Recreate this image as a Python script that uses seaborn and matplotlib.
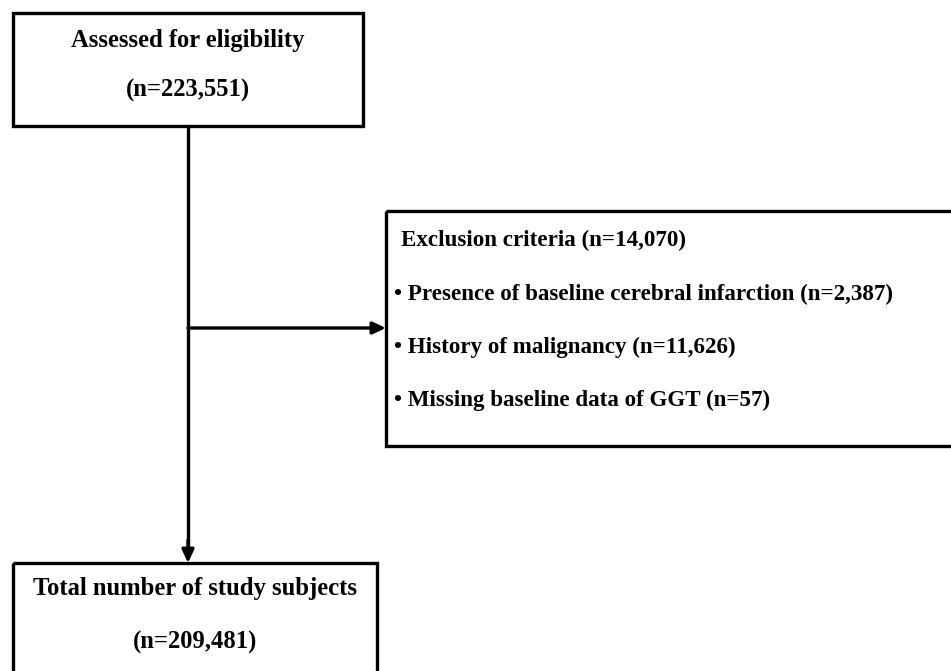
import matplotlib
matplotlib.use("Agg")
import matplotlib.pyplot as plt
import seaborn as sns
import pandas as pd
from matplotlib.patches import Rectangle

# Flowchart content
top_label = "Assessed for eligibility"
top_n = "223,551"
excl_label = "Exclusion criteria"
excl_n = "14,070"
excl_items = ["Presence of baseline cerebral infarction",
              "History of malignancy",
              "Missing baseline data of GGT"]
excl_counts = ["2,387", "11,626", "57"]
bottom_label = "Total number of study subjects"
bottom_n = "209,481"

sns.set_theme(style="white")
plt.rcParams["font.family"] = ["Liberation Serif", "DejaVu Serif"]
plt.rcParams["text.color"] = "black"

W, H = 951, 671
fig = plt.figure(figsize=(W / 100, H / 100), dpi=100)
ax = fig.add_axes([0, 0, 1, 1])
ax.set_xlim(0, W)
ax.set_ylim(H, 0)
ax.axis("off")

lw = 2.4
fs_main = 17.7
fs_excl = 16.6

# boxes (pixel coordinates, y downward)
for x0, y0, x1, y1 in [(13, 13, 363, 126), (386, 211, 960, 446), (13, 563, 377, 690)]:
    ax.add_patch(Rectangle((x0, y0), x1 - x0, y1 - y0, fill=False,
                           edgecolor="black", linewidth=lw, zorder=2))

# vertical connector
trunk = pd.DataFrame({"x": [188, 188], "y": [126, 548]})
sns.lineplot(data=trunk, x="x", y="y", ax=ax, color="black", linewidth=lw,
             sort=False, estimator=None)
arrow = dict(arrowstyle="-|>,head_length=0.65,head_width=0.3",
             color="black", lw=lw, shrinkA=0, shrinkB=0)
ax.annotate("", xy=(188, 563), xytext=(188, 540), arrowprops=arrow)
# horizontal arrow to exclusion box
ax.annotate("", xy=(386, 328), xytext=(188, 328), arrowprops=arrow)
ax.set_xlabel("")
ax.set_ylabel("")

# texts
ax.text(188, 40, top_label, ha="center", va="center", fontsize=fs_main, fontweight="bold")
ax.text(188, 90, f"(n={top_n})", ha="center", va="center", fontsize=fs_main, fontweight="bold")

ax.text(401, 240, f"{excl_label} (n={excl_n})", ha="left", va="center",
        fontsize=fs_excl, fontweight="bold")
for i, (item, n) in enumerate(zip(excl_items, excl_counts)):
    ax.text(394, 294 + 53 * i, f"\u2022 {item} (n={n})", ha="left", va="center",
            fontsize=fs_excl, fontweight="bold")

ax.text(195, 588, bottom_label, ha="center", va="center", fontsize=fs_main, fontweight="bold")
ax.text(195, 642, f"(n={bottom_n})", ha="center", va="center", fontsize=fs_main, fontweight="bold")

fig.savefig("out.png", dpi=100, facecolor="white")
